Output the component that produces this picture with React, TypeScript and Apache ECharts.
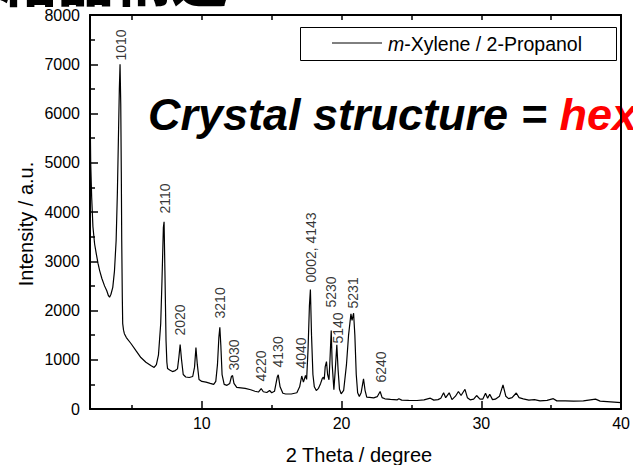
import React, { useEffect, useRef } from "react";
import * as echarts from "echarts";

const theta = [
  2.0, 2.05, 2.12, 2.21, 2.33, 2.45, 2.57, 2.69, 2.85, 3.04, 3.2, 3.32, 3.4, 3.5, 3.63, 3.75, 3.87, 3.96, 4.03, 4.1,
  4.15, 4.2, 4.24, 4.27, 4.31, 4.34, 4.4, 4.46, 4.6, 4.93, 5.3, 5.64, 6.0, 6.35, 6.59, 6.75, 6.9, 7.06, 7.15, 7.25,
  7.3, 7.36, 7.44, 7.5, 7.55, 7.7, 7.9, 8.1, 8.26, 8.36, 8.45, 8.55, 8.67, 8.85, 9.1, 9.35, 9.48, 9.58, 9.68, 9.8,
  10.0, 10.3, 10.6, 10.85, 11.0, 11.12, 11.22, 11.29, 11.36, 11.45, 11.6, 11.8, 12.0, 12.12, 12.2, 12.3, 12.5, 12.8, 13.1, 13.5,
  13.8, 14.05, 14.25, 14.4, 14.65, 14.85, 15.0, 15.2, 15.4, 15.47, 15.6, 15.8, 16.0, 16.4, 16.8, 17.0, 17.15, 17.27, 17.42, 17.5,
  17.6, 17.7, 17.77, 17.85, 17.95, 18.05, 18.19, 18.35, 18.5, 18.62, 18.7, 18.76, 18.83, 18.92, 19.0, 19.1, 19.17, 19.26, 19.33, 19.45,
  19.55, 19.66, 19.75, 19.85, 19.97, 20.15, 20.35, 20.5, 20.67, 20.75, 20.86, 20.95, 21.05, 21.15, 21.27, 21.4, 21.57, 21.68, 21.8, 22.0,
  22.3, 22.55, 22.76, 22.9, 23.1, 23.5, 23.99, 24.1, 24.3, 24.8, 25.4, 25.9, 26.35, 26.6, 26.9, 27.1, 27.3, 27.45, 27.7, 27.9,
  28.15, 28.36, 28.55, 28.83, 29.0, 29.2, 29.45, 29.66, 29.9, 30.1, 30.3, 30.45, 30.6, 30.8, 31.0, 31.3, 31.55, 31.75, 31.95, 32.2,
  32.5, 32.7, 33.0, 33.4, 33.8, 34.2, 34.7, 35.15, 35.4, 36.0, 36.6, 37.3, 38.17, 38.5, 39.0, 39.5, 40.0,
];
const intensity = [
  6300, 5000, 4300, 3700, 3350, 3150, 2960, 2810, 2650, 2500, 2400, 2300, 2270, 2330, 2470, 2800, 3420, 4400, 5450, 6500,
  7000, 6200, 4800, 3420, 2300, 1735, 1600, 1530, 1450, 1330, 1180, 1045, 950, 883, 843, 900, 1100, 1735, 2600, 3685,
  3800, 2800, 1390, 950, 820, 790, 760, 780, 815, 1050, 1310, 1000, 700, 650, 640, 660, 850, 1250, 900, 600,
  560, 545, 520, 500, 560, 900, 1450, 1660, 1300, 700, 500, 480, 520, 660, 680, 520, 440, 430, 420, 390,
  360, 345, 416, 350, 335, 375, 330, 360, 650, 694, 450, 320, 305, 305, 330, 450, 670, 545, 680, 600,
  1200, 2100, 2426, 1500, 700, 450, 376, 420, 520, 620, 646, 600, 860, 964, 700, 593, 1000, 1594, 900, 390,
  800, 1303, 800, 400, 308, 380, 900, 1500, 1933, 1797, 1946, 1500, 700, 330, 254, 330, 613, 380, 240, 235,
  227, 250, 355, 230, 207, 195, 187, 210, 180, 175, 173, 185, 220, 180, 190, 220, 329, 230, 329, 190,
  260, 355, 274, 400, 230, 187, 200, 274, 200, 200, 320, 220, 300, 190, 200, 260, 490, 260, 210, 230,
  325, 230, 207, 180, 190, 165, 175, 210, 165, 165, 160, 165, 200, 160, 150, 140, 130,
];

// Peak index labels: text, 2θ position, intensity at the foot of the label
const peakNames = ["1010", "2110", "2020", "3210", "3030", "4220", "4130", "4040", "0002, 4143", "5230", "5140", "5231", "6240"];
const peakTheta = [4.2, 7.39, 8.45, 11.29, 12.28, 14.2, 15.48, 17.1, 17.82, 19.25, 19.73, 20.8, 22.85];
const peakLabelY = [7075, 3970, 1492, 1838, 782, 558, 843, 822, 2570, 2061, 1330, 2041, 538];

const xLabelTicks = [10, 20, 30, 40];
const xMinorTicks = [5, 15, 25, 35];
const xTopTicks = [5, 10, 15, 20, 25, 30, 35, 40];

const seriesName = "m-Xylene / 2-Propanol";

export default function App() {
  const ref = useRef<HTMLDivElement>(null);
  useEffect(() => {
    if (!ref.current) return;
    const chart = echarts.init(ref.current, null, { renderer: "svg" });
    const font = "Liberation Sans, Arial, sans-serif";
    const lineData = theta.map((t, i) => [t, intensity[i]]);
    const labelData = peakNames.map((n, i) => [peakTheta[i], peakLabelY[i], n]);
    const axisBase = {
      type: "value",
      min: 2,
      max: 40,
      splitLine: { show: false },
    };
    chart.setOption({
      animation: false,
      backgroundColor: "#fff",
      grid: { left: 90, right: 5, top: 15, bottom: 56, containLabel: false },
      xAxis: [
        {
          ...axisBase,
          position: "bottom",
          axisLine: { show: true, lineStyle: { color: "#000", width: 2 } },
          axisTick: { show: true, inside: true, length: 8, customValues: xLabelTicks, lineStyle: { color: "#000", width: 1.5 } },
          axisLabel: { show: true, customValues: xLabelTicks, fontSize: 16, margin: 6, color: "#000", fontFamily: font },
        },
        {
          ...axisBase,
          position: "bottom",
          axisLine: { show: false },
          axisTick: { show: true, inside: true, length: 4, customValues: xMinorTicks, lineStyle: { color: "#000", width: 1.5 } },
          axisLabel: { show: false },
        },
        {
          ...axisBase,
          position: "top",
          axisLine: { show: true, lineStyle: { color: "#000", width: 2 } },
          axisTick: { show: true, inside: true, length: 5, customValues: xTopTicks, lineStyle: { color: "#000", width: 1.5 } },
          axisLabel: { show: false },
        },
      ],
      yAxis: [
        {
          type: "value",
          min: 0,
          max: 8000,
          interval: 1000,
          position: "left",
          splitLine: { show: false },
          axisLine: { show: true, lineStyle: { color: "#000", width: 2 } },
          axisTick: { show: true, inside: true, length: 8, lineStyle: { color: "#000", width: 1.5 } },
          minorTick: { show: true, splitNumber: 2, length: 5, lineStyle: { color: "#000", width: 1.5 } },
          axisLabel: { fontSize: 16, margin: 10, color: "#000", fontFamily: font, formatter: (v: number) => String(v) },
        },
        {
          type: "value",
          min: 0,
          max: 8000,
          position: "right",
          splitLine: { show: false },
          axisLine: { show: true, lineStyle: { color: "#000", width: 2 } },
          axisTick: { show: false },
          axisLabel: { show: false },
        },
      ],
      series: [
        {
          name: seriesName,
          type: "line",
          xAxisIndex: 0,
          yAxisIndex: 0,
          data: lineData,
          showSymbol: false,
          symbol: "none",
          lineStyle: { color: "#000", width: 1.2 },
          silent: true,
        },
        {
          type: "scatter",
          xAxisIndex: 0,
          yAxisIndex: 0,
          data: labelData,
          symbolSize: 0,
          silent: true,
          label: {
            show: true,
            position: "inside",
            rotate: 90,
            align: "left",
            verticalAlign: "middle",
            formatter: (p: any) => p.data[2],
            fontSize: 14,
            color: "#000",
            textBorderWidth: 0,
            fontFamily: font,
          },
        },
      ],
      graphic: [
        {
          type: "text",
          left: 0,
          top: -53,
          style: {
            text: "結晶構造",
            fontSize: 57,
            fontWeight: 900,
            fontFamily: "Noto Sans CJK JP",
            fill: "#000",
          },
        },
        {
          type: "text",
          x: 148,
          y: 114,
          style: {
            text: "{b|Crystal structure = }{r|hexagonal}",
            verticalAlign: "middle",
            rich: {
              b: { fontSize: 45, fontWeight: "bold", fontStyle: "italic", fontFamily: font, fill: "#000" },
              r: { fontSize: 45, fontWeight: "bold", fontStyle: "italic", fontFamily: font, fill: "#ff0000" },
            },
          },
        },
        {
          type: "rect",
          shape: { x: 300.5, y: 27.5, width: 316, height: 33 },
          style: { fill: "#fff", stroke: "#000", lineWidth: 1 },
        },
        {
          type: "line",
          shape: { x1: 332, y1: 43, x2: 382, y2: 43 },
          style: { stroke: "#000", lineWidth: 1 },
        },
        {
          type: "text",
          x: 388,
          y: 44,
          style: {
            text: "{i|m}{n|-Xylene / 2-Propanol}",
            verticalAlign: "middle",
            rich: {
              i: { fontSize: 19.5, fontStyle: "italic", fontFamily: font, fill: "#000" },
              n: { fontSize: 19.5, fontFamily: font, fill: "#000" },
            },
          },
        },
        {
          type: "text",
          x: 359,
          y: 455,
          style: {
            text: "2 Theta / degree",
            fontSize: 20,
            fontFamily: font,
            fill: "#000",
            align: "center",
            verticalAlign: "middle",
          },
        },
        {
          type: "text",
          x: 26,
          y: 224,
          rotation: Math.PI / 2,
          style: {
            text: "Intensity / a.u.",
            fontSize: 20,
            fontFamily: font,
            fill: "#000",
            align: "center",
            verticalAlign: "middle",
          },
        },
      ],
    });
    return () => chart.dispose();
  }, []);
  return <div ref={ref} style={{ position: "absolute", left: 0, top: 0, width: 633, height: 465 }} />;
}
